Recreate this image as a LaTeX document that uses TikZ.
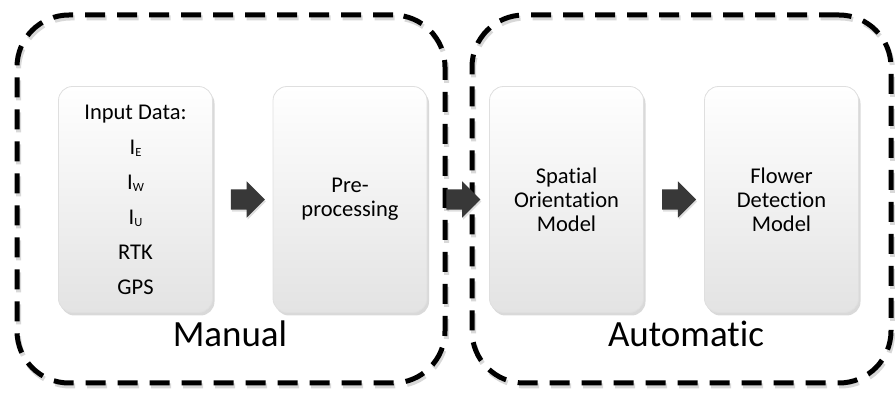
\documentclass[tikz,border=0pt]{standalone}
\usepackage{fontspec}
\setmainfont[Ligatures=NoCommon]{Carlito}
\usetikzlibrary{shapes.arrows,shadows,calc}

% small lowered index letter after a symbol
\newcommand{\idx}[1]{\raisebox{-2.5pt}{\fontsize{12.5}{12.5}\selectfont #1}}

\begin{document}
\begin{tikzpicture}[x=1pt,y=-1pt,
  stage/.style={draw=gray!25, line width=0.8pt, rounded corners=14pt,
    top color=white, bottom color=gray!22,
    minimum width=154pt, minimum height=226pt, inner sep=0pt,
    align=center, font=\fontsize{22.5}{24}\selectfont,
    drop shadow={shadow xshift=2pt, shadow yshift=-3pt, opacity=0.3}},
  flow/.style={single arrow, fill=black!78, inner xsep=0pt, inner ysep=10pt,
    minimum height=34pt, single arrow head extend=8pt,
    drop shadow={shadow xshift=1pt, shadow yshift=-2pt, opacity=0.25}},
  group/.style={draw, line width=5pt, dash pattern=on 20pt off 12pt,
    rounded corners=52pt, inner sep=0pt,
    preaction={draw=gray!60, opacity=0.5, line width=5pt,
      dash pattern=on 20pt off 12pt, transform canvas={shift={(1.5pt,-3pt)}}}},
  grouplabel/.style={font=\fontsize{37}{40}\selectfont, anchor=base}
]
\useasboundingbox (0,0) rectangle (895,395);

% dashed groups
\node[group, minimum width=428pt, minimum height=368pt] (manual) at (231,199) {};
\node[group, minimum width=419pt, minimum height=368pt] (automatic) at (681.5,199) {};

% processing stages
\node[stage, font=\fontsize{22.5}{35}\selectfont] (input) at (135.5,199.5) {%
  Input Data:\\
  I\idx{E}\\ I\idx{W}\\ I\idx{U}\\ RTK\\ GPS};
\node[stage] (pre) at (350,199.5) {Pre-\\processing};
\node[stage] (spatial) at (566.5,199.5) {Spatial\\Orientation\\Model};
\node[stage] (flower) at (781.5,199.5) {Flower\\Detection\\Model};

% block arrows between stages
\path (input.east) -- (pre.west) node[midway, flow] (a1) {};
\path (pre.east) -- (spatial.west) node[midway, flow] (a2) {};
\path (spatial.east) -- (flower.west) node[midway, flow] (a3) {};

% group labels
\node[grouplabel] (lmanual) at (230,347) {Manual};
\node[grouplabel] (lauto) at (686,347) {Automatic};
\end{tikzpicture}
\end{document}
